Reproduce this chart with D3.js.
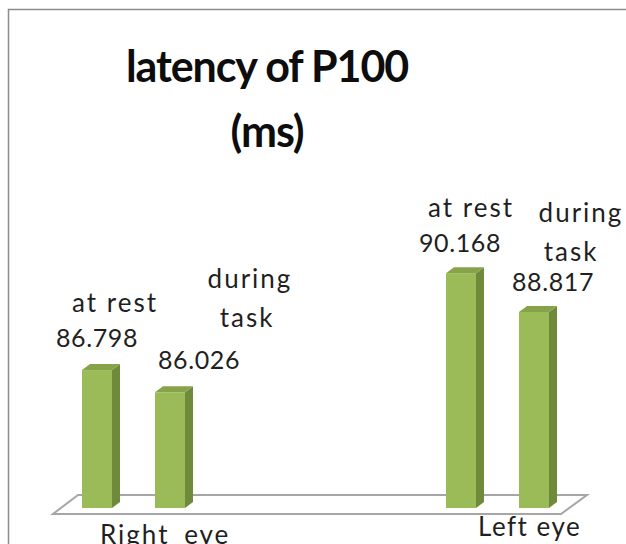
<!DOCTYPE html>
<html><head><meta charset="utf-8">
<script src="https://cdn.jsdelivr.net/npm/d3@7"></script>
<style>html,body{margin:0;padding:0;background:#fff;overflow:hidden}</style>
</head><body>
<script>
const categories = ["Right eye", "Left eye"];
const seriesNames = ["at rest", "during task"];
const atRest = [86.798, 90.168];
const duringTask = [86.026, 88.817];
const titleLines = ["latency of P100", "(ms)"];

const W = 626, H = 544;
const svg = d3.select("body").append("svg").attr("width", W).attr("height", H);
svg.append("rect").attr("width", W).attr("height", H).attr("fill", "#fff");
// chart frame
svg.append("rect").attr("x", 8.5).attr("y", 9.5).attr("width", 700).attr("height", 600)
  .attr("fill", "none").attr("stroke", "#8c8c8c").attr("stroke-width", 1.5);

const font = "Lato, 'Open Sans', sans-serif";
const textColor = "#1f1f1f";

// title
titleLines.forEach((t, i) => {
  svg.append("text").attr("x", 267).attr("y", 82 + i * 65).attr("text-anchor", "middle")
    .attr("font-family", font).attr("font-weight", "bold").attr("font-size", 43)
    .attr("letter-spacing", -1.1).attr("fill", "#0d0d0d").text(t);
});

// scales
const y = d3.scaleLinear().domain([82, 92]).range([508, 220.5]);
const x0 = d3.scaleOrdinal().domain(categories).range([82, 446]);
const x = d3.scalePoint().domain(seriesNames).range([0, 73]);
const barW = 30, dx = 8, dy = 6;

// floor
const fl = [[78, 495], [587, 495], [561, 514], [53, 514]];
svg.append("path").attr("d", "M" + fl.map(p => p.join(",")).join("L") + "Z")
  .attr("fill", "#fff").attr("stroke", "#a6a6a6").attr("stroke-width", 2);

const data = [];
categories.forEach((c, i) => {
  data.push({cat: c, s: seriesNames[0], v: atRest[i]});
  data.push({cat: c, s: seriesNames[1], v: duringTask[i]});
});
const bx = d => x0(d.cat) + x(d.s);

const g = svg.append("g");
data.forEach(d => {
  const xl = bx(d), xr = xl + barW, yt = y(d.v), yb = y(82);
  g.append("path").attr("d", `M${xr},${yt}L${xr+dx},${yt-dy}L${xr+dx},${yb-dy}L${xr},${yb}Z`)
    .attr("fill", "#6f8a3a");
  g.append("path").attr("d", `M${xl},${yt}L${xl+dx},${yt-dy}L${xr+dx},${yt-dy}L${xr},${yt}Z`)
    .attr("fill", "#86a34a");
  g.append("rect").attr("x", xl).attr("y", yt).attr("width", barW).attr("height", yb - yt)
    .attr("fill", "#9bbb59");
});

// data label layout (offsets from bar top-centre): [dx, dy] per line
const labelLayout = [
  [[18, -58], [0, -23]],                 // right, at rest
  [[80, -104], [77, -65], [29, -23]],    // right, during task
  [[10, -56], [-1, -21]],                // left, at rest
  [[47, -90], [37, -51], [19, -21]]      // left, during task
];
const word = (txt, xx, yy) => svg.append("text").attr("x", xx).attr("y", yy)
  .attr("text-anchor", "middle").attr("font-family", font).attr("font-size", 26)
  .attr("letter-spacing", 2).attr("fill", textColor).text(txt);
const num = (txt, xx, yy) => svg.append("text").attr("x", xx).attr("y", yy)
  .attr("text-anchor", "middle").attr("font-family", font).attr("font-size", 25)
  .attr("letter-spacing", 0.6).attr("fill", textColor).text(txt);

data.forEach((d, i) => {
  const cx = bx(d) + barW / 2, vy = y(d.v);
  const L = labelLayout[i];
  const words = d.s === seriesNames[0] ? [d.s] : d.s.split(" ");
  words.forEach((w, k) => word(w, cx + L[k][0], vy + L[k][1]));
  const nl = L[L.length - 1];
  num(d.v.toFixed(3), cx + nl[0], vy + nl[1]);
});

// category labels
svg.append("text").attr("x", 100).attr("y", 544).attr("font-family", font).attr("font-size", 26)
  .attr("letter-spacing", 2).attr("word-spacing", 6).attr("fill", textColor).text(categories[0]);
svg.append("text").attr("x", 478).attr("y", 536).attr("font-family", font).attr("font-size", 26)
  .attr("letter-spacing", 1.5).attr("fill", textColor).text(categories[1]);
</script>
</body></html>
